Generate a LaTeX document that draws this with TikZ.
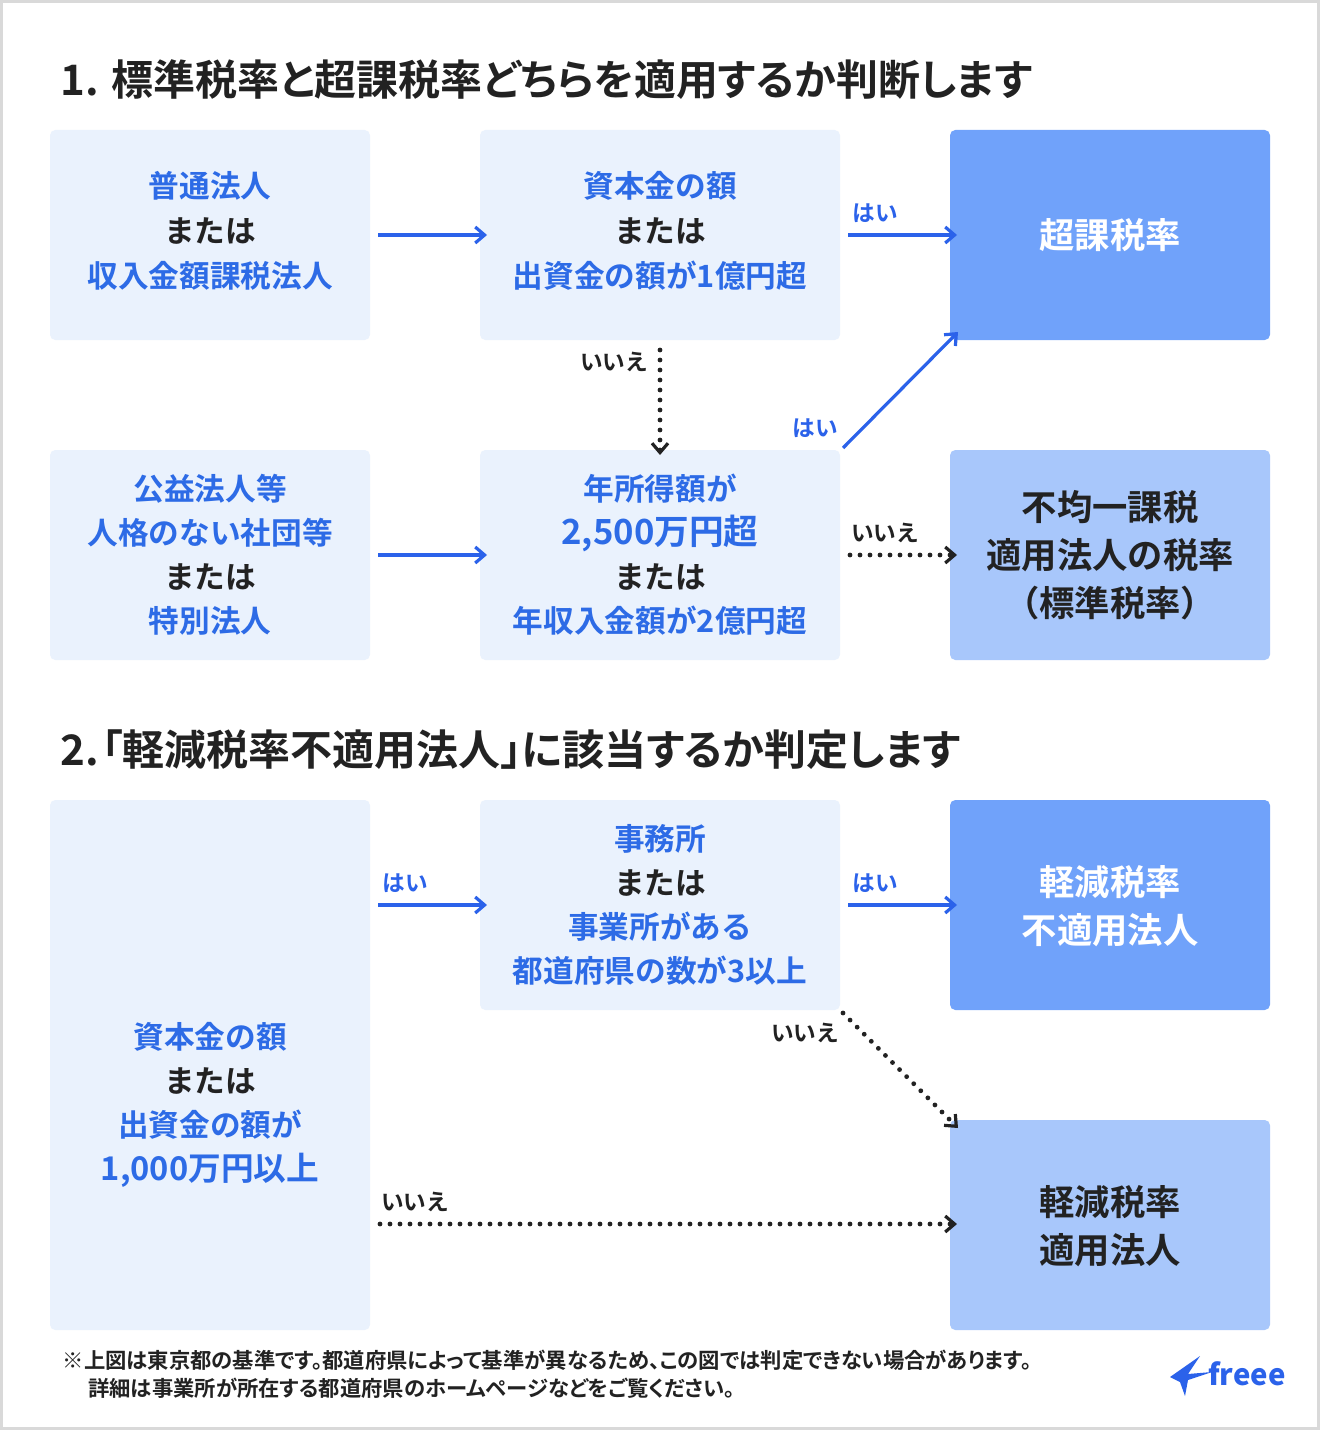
\documentclass[tikz,border=0pt]{standalone}
\usepackage{fontspec}
\setmainfont{Noto Sans CJK JP}[BoldFont={Noto Sans CJK JP Bold}]
\newfontfamily\jpp{Noto Sans CJK JP Bold}[RawFeature=+palt]
\usetikzlibrary{arrows.meta}
\definecolor{lb}{HTML}{EAF2FD}
\definecolor{db}{HTML}{70A2FA}
\definecolor{mb}{HTML}{A8C7FB}
\definecolor{bt}{HTML}{2D6BE6}
\definecolor{ab}{HTML}{2B62EA}
\definecolor{tx}{HTML}{222222}
\begin{document}
\begin{tikzpicture}[x=0.75pt,y=-0.75pt,
  box/.style={fill=#1,rounded corners=4pt,draw=none},
  t/.style={font=\bfseries\fontsize{23}{33.75}\selectfont,align=center,text=bt},
  tw/.style={font=\bfseries\fontsize{26.5}{36}\selectfont,align=center,text=white},
  tk/.style={font=\bfseries\fontsize{26.5}{36}\selectfont,align=center,text=tx},
  lab/.style={font=\bfseries\fontsize{17}{18}\selectfont,inner sep=0pt},
  ba/.style={draw=ab,line width=2.4pt,-{Straight Barb[length=7pt,width=12pt]}},
  da/.style={draw=tx,line width=3.6pt,line cap=round,dash pattern=on 0pt off 7.5pt,-{Straight Barb[length=7pt,width=12pt,line cap=butt,line width=2.4pt]}}]
\useasboundingbox (0,0) rectangle (1320,1430);
\draw[draw=black!15,line width=2.2pt,fill=white] (1.5,1.5) rectangle (1318.5,1428.5);
\node[anchor=west,font=\jpp\fontsize{31.5}{32}\selectfont,text=tx] (t1) at (56,80) {1. 標準税率と超課税率どちらを適用するか判断します};
\node[anchor=west,font=\jpp\fontsize{31.5}{32}\selectfont,text=tx] (t2) at (56,750) {2.\kern2pt「軽減税率不適用法人」に該当するか判定します};
% boxes
\path[box=lb] (50,130) rectangle (370,340); \node[t] (A) at (210,231) {普通法人\\{\color{tx}または}\\収入金額課税法人};
\path[box=lb] (480,130) rectangle (840,340); \node[t] (B) at (660,231) {資本金の額\\{\color{tx}または}\\出資金の額が1億円超};
\path[box=db] (950,130) rectangle (1270,340); \node[tw] (C) at (1110,235) {超課税率};
\path[box=lb] (50,450) rectangle (370,660); \node[t,font=\bfseries\fontsize{23}{33}\selectfont] (D) at (210,555) {公益法人等\\人格のない社団等\\{\color{tx}または}\\特別法人};
\path[box=lb] (480,450) rectangle (840,660); \node[t,font=\bfseries\fontsize{23}{33}\selectfont] (E) at (660,555) {年所得額が\\{\fontsize{26}{33}\selectfont 2,500万円超}\\{\color{tx}または}\\年収入金額が2億円超};
\path[box=mb] (950,450) rectangle (1270,660); \node[tk] (F) at (1110,555) {不均一課税\\適用法人の税率\\（標準税率）};
\path[box=lb] (50,800) rectangle (370,1330); \node[t,font=\bfseries\fontsize{23}{33}\selectfont] (G) at (210,1105) {資本金の額\\{\color{tx}または}\\出資金の額が\\{\fontsize{24.5}{30}\selectfont 1,000万円以上}};
\path[box=lb] (480,800) rectangle (840,1010); \node[t,font=\bfseries\fontsize{23}{33}\selectfont] (H) at (660,905) {事務所\\{\color{tx}または}\\事業所がある\\都道府県の数が3以上};
\path[box=db] (950,800) rectangle (1270,1010); \node[tw] (I) at (1110,906) {軽減税率\\不適用法人};
\path[box=mb] (950,1120) rectangle (1270,1330); \node[tk] (J) at (1110,1226) {軽減税率\\適用法人};
% connectors
\coordinate (a1) at (378,235); \coordinate (b1) at (487,235);
\draw[ba] (a1) -- (b1);
\coordinate (b2) at (848,235); \coordinate (c1) at (957,235);
\draw[ba] (b2) -- (c1);
\node[lab,text=ab] (l0) at (875,213) {はい};
\coordinate (b3) at (660,350); \coordinate (e1) at (660,455);
\draw[da] (b3) -- (e1);
\node[lab,text=tx] (l1) at (614,362) {いいえ};
\coordinate (e2) at (843,448); \coordinate (c2) at (958,332);
\draw[ba] (e2) -- (c2);
\node[lab,text=ab] (l2) at (815,428) {はい};
\coordinate (d1) at (378,555); \coordinate (e3) at (487,555);
\draw[ba] (d1) -- (e3);
\coordinate (e4) at (850,555); \coordinate (f1) at (957,555);
\draw[da] (e4) -- (f1);
\node[lab,text=tx] (l3) at (885,533) {いいえ};
\coordinate (g1) at (378,905); \coordinate (h1) at (487,905);
\draw[ba] (g1) -- (h1);
\node[lab,text=ab] (l4) at (405,883) {はい};
\coordinate (h2) at (848,905); \coordinate (i1) at (957,905);
\draw[ba] (h2) -- (i1);
\node[lab,text=ab] (l5) at (875,883) {はい};
\coordinate (h3) at (843,1013); \coordinate (j1) at (958,1128);
\draw[da] (h3) -- (j1);
\node[lab,text=tx] (l6) at (805,1033) {いいえ};
\coordinate (g2) at (380,1224); \coordinate (j2) at (957,1224);
\draw[da] (g2) -- (j2);
\node[lab,text=tx] (l7) at (415,1202) {いいえ};
% footnote
\node[anchor=west,font=\jpp\fontsize{16}{21}\selectfont,text=tx,align=left] (fn) at (58,1374) {※上図は東京都の基準です。都道府県によって基準が異なるため、この図では判定できない場合があります。\\\hspace*{1.2em}詳細は事業所が所在する都道府県のホームページなどをご覧ください。};
% logo
\fill[ab] (1170,1377) -- (1200,1356) -- (1188,1374) -- (1212,1372) -- (1188,1380) -- (1185,1396) -- (1180,1382) -- cycle;
\node[anchor=west,font=\itshape\bfseries\fontsize{22}{24}\selectfont,text=ab,inner sep=0pt] (logo) at (1208,1374) {freee};
\end{tikzpicture}
\end{document}
